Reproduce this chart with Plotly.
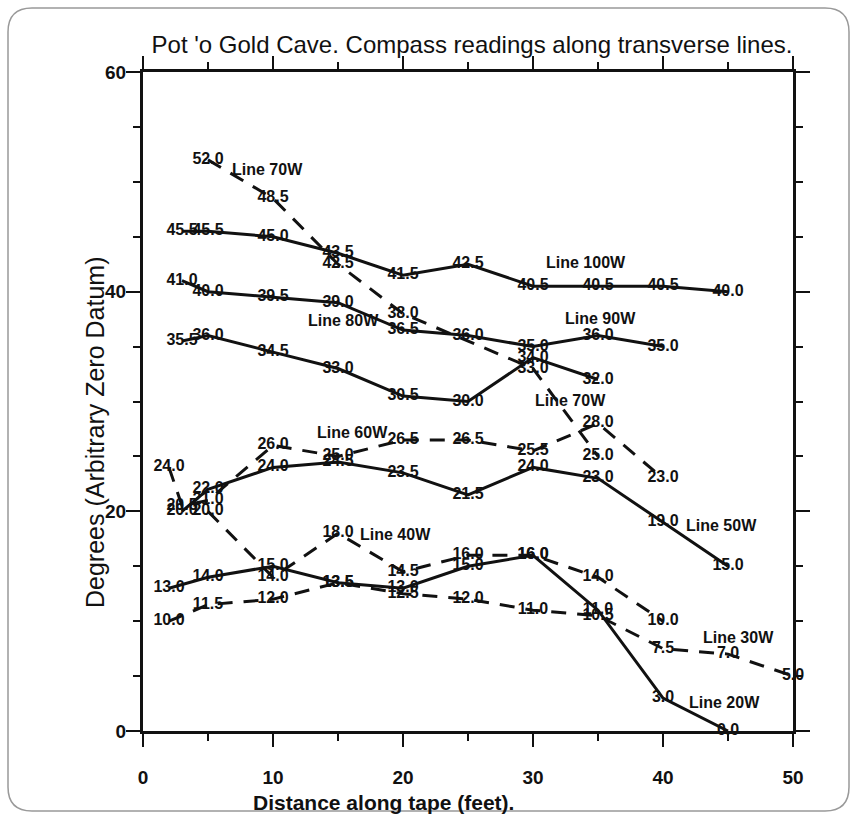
import plotly.graph_objects as go

# ---- data ----
x_100w = [3, 5, 10, 15, 20, 25, 30, 35, 40, 45]
y_100w = [45.5, 45.5, 45.0, 43.5, 41.5, 42.5, 40.5, 40.5, 40.5, 40.0]

x_90w = [3, 5, 10, 15, 20, 25, 30, 35, 40]
y_90w = [41.0, 40.0, 39.5, 39.0, 36.5, 36.0, 35.0, 36.0, 35.0]

x_80w = [3, 5, 10, 15, 20, 25, 30, 35]
y_80w = [35.5, 36.0, 34.5, 33.0, 30.5, 30.0, 34.0, 32.0]

x_70w = [5, 10, 15, 20, 30, 35]
y_70w = [52.0, 48.5, 42.5, 38.0, 33.0, 25.0]

x_60w = [2, 3, 5, 10, 15, 20, 25, 30, 35, 40]
y_60w = [24.0, 20.5, 21.0, 26.0, 25.0, 26.5, 26.5, 25.5, 28.0, 23.0]

x_50w = [3, 5, 10, 15, 20, 25, 30, 35, 40, 45]
y_50w = [20.0, 22.0, 24.0, 24.5, 23.5, 21.5, 24.0, 23.0, 19.0, 15.0]

x_40w = [5, 10, 15, 20, 25, 30, 35, 40]
y_40w = [20.0, 14.0, 18.0, 14.5, 16.0, 16.0, 14.0, 10.0]

x_30w = [2, 5, 10, 15, 20, 25, 30, 35, 40, 45, 50]
y_30w = [10.0, 11.5, 12.0, 13.5, 12.5, 12.0, 11.0, 10.5, 7.5, 7.0, 5.0]

x_20w = [2, 5, 10, 15, 20, 25, 30, 35, 40, 45]
y_20w = [13.0, 14.0, 15.0, 13.5, 13.0, 15.0, 16.0, 11.0, 3.0, 0.0]

series_names = ["Line 100W", "Line 90W", "Line 80W", "Line 70W", "Line 60W",
                "Line 50W", "Line 40W", "Line 30W", "Line 20W"]
series_x = [x_100w, x_90w, x_80w, x_70w, x_60w, x_50w, x_40w, x_30w, x_20w]
series_y = [y_100w, y_90w, y_80w, y_70w, y_60w, y_50w, y_40w, y_30w, y_20w]
series_dashed = [False, False, False, True, True, False, True, True, False]

x_ticks = [0, 10, 20, 30, 40, 50]
y_ticks = [0, 20, 40, 60]

title_text = "Pot 'o Gold Cave. Compass readings along transverse lines."
x_title = "Distance along tape (feet)."
y_title = "Degrees (Arbitrary Zero Datum)"

# name labels: (text, x, y) in data units
name_labels = [
    ("Line 70W", 9.6, 51.1),
    ("Line 100W", 34.1, 42.7),
    ("Line 90W", 35.2, 37.6),
    ("Line 80W", 15.4, 37.4),
    ("Line 70W", 32.9, 30.1),
    ("Line 60W", 16.1, 27.2),
    ("Line 40W", 19.4, 17.9),
    ("Line 50W", 44.5, 18.7),
    ("Line 30W", 45.8, 8.5),
    ("Line 20W", 44.7, 2.6),
]

FONT = "Liberation Sans, Arial, Helvetica, sans-serif"
INK = "#111"

fig = go.Figure()
for name, xs, ys, dashed in zip(series_names, series_x, series_y, series_dashed):
    fig.add_trace(go.Scatter(
        x=xs, y=ys, name=name, mode="lines+text",
        text=[f"{v:.1f}" for v in ys],
        texttemplate="<b>%{text}</b>",
        textposition="middle center",
        textfont=dict(family=FONT, size=16, color=INK),
        line=dict(color=INK, width=3, dash="15px,11px" if dashed else "solid"),
        cliponaxis=False, showlegend=False, hoverinfo="skip",
    ))

# plot area in page pixels: x 143..793, y 72..731
def px_to_paper_x(px):
    return (px - 143) / 650.0

def px_to_paper_y(py):
    return (731 - py) / 659.0

annotations = []
for txt, ax_, ay_ in name_labels:
    annotations.append(dict(x=ax_, y=ay_, xref="x", yref="y", text=f"<b>{txt}</b>",
                            showarrow=False, font=dict(family=FONT, size=16, color=INK)))

annotations.append(dict(text=f"<b>{x_title}</b>", xref="paper", yref="paper",
                        x=px_to_paper_x(383), y=px_to_paper_y(802),
                        xanchor="center", yanchor="middle", showarrow=False,
                        font=dict(family=FONT, size=21, color=INK)))
annotations.append(dict(text=y_title, xref="paper", yref="paper",
                        x=px_to_paper_x(95), y=px_to_paper_y(433), textangle=-90,
                        xanchor="center", yanchor="middle", showarrow=False,
                        font=dict(family=FONT, size=25, color=INK)))

# outer rounded border
L, R, T, B, rad = 8, 849, 8, 811, 24
x0, x1 = px_to_paper_x(L), px_to_paper_x(R)
y0, y1 = px_to_paper_y(B), px_to_paper_y(T)
rx, ry = rad / 650.0, rad / 659.0
path = (f"M {x0+rx},{y1} L {x1-rx},{y1} Q {x1},{y1} {x1},{y1-ry} "
        f"L {x1},{y0+ry} Q {x1},{y0} {x1-rx},{y0} L {x0+rx},{y0} "
        f"Q {x0},{y0} {x0},{y0+ry} L {x0},{y1-ry} Q {x0},{y1} {x0+rx},{y1} Z")

fig.update_layout(
    width=857, height=817,
    margin=dict(l=143, r=64, t=72, b=86),
    paper_bgcolor="white", plot_bgcolor="white",
    font=dict(family=FONT, color=INK),
    title=dict(text=title_text, x=px_to_paper_x(472), xref="paper", y=1 - 45 / 817, yref="container",
               xanchor="center", yanchor="middle",
               font=dict(family=FONT, size=24, color=INK)),
    annotations=annotations,
    shapes=[dict(type="path", path=path, xref="paper", yref="paper",
                 line=dict(color="#999999", width=1.5), layer="below")],
    xaxis=dict(range=[0, 50], tickvals=x_ticks, ticktext=[f"<b>{t}</b>" for t in x_ticks],
               showgrid=False, zeroline=False, showline=True, linecolor=INK, linewidth=3,
               mirror="allticks", ticks="outside", ticklen=13, tickwidth=2, tickcolor=INK,
               minor=dict(dtick=5, tick0=0, ticks="outside", ticklen=7, tickwidth=2, tickcolor=INK),
               tickfont=dict(family=FONT, size=19, color=INK), ticklabelstandoff=14),
    yaxis=dict(range=[0, 60], tickvals=y_ticks, ticktext=[f"<b>{t}</b>" for t in y_ticks],
               showgrid=False, zeroline=False, showline=True, linecolor=INK, linewidth=3,
               mirror="allticks", ticks="outside", ticklen=14, tickwidth=2, tickcolor=INK,
               minor=dict(dtick=5, tick0=0, ticks="outside", ticklen=7, tickwidth=2, tickcolor=INK),
               tickfont=dict(family=FONT, size=19, color=INK), ticklabelstandoff=-4),
)

fig.write_html("out.html", config={"displayModeBar": False},
               post_script="document.body.style.margin='0px';")
